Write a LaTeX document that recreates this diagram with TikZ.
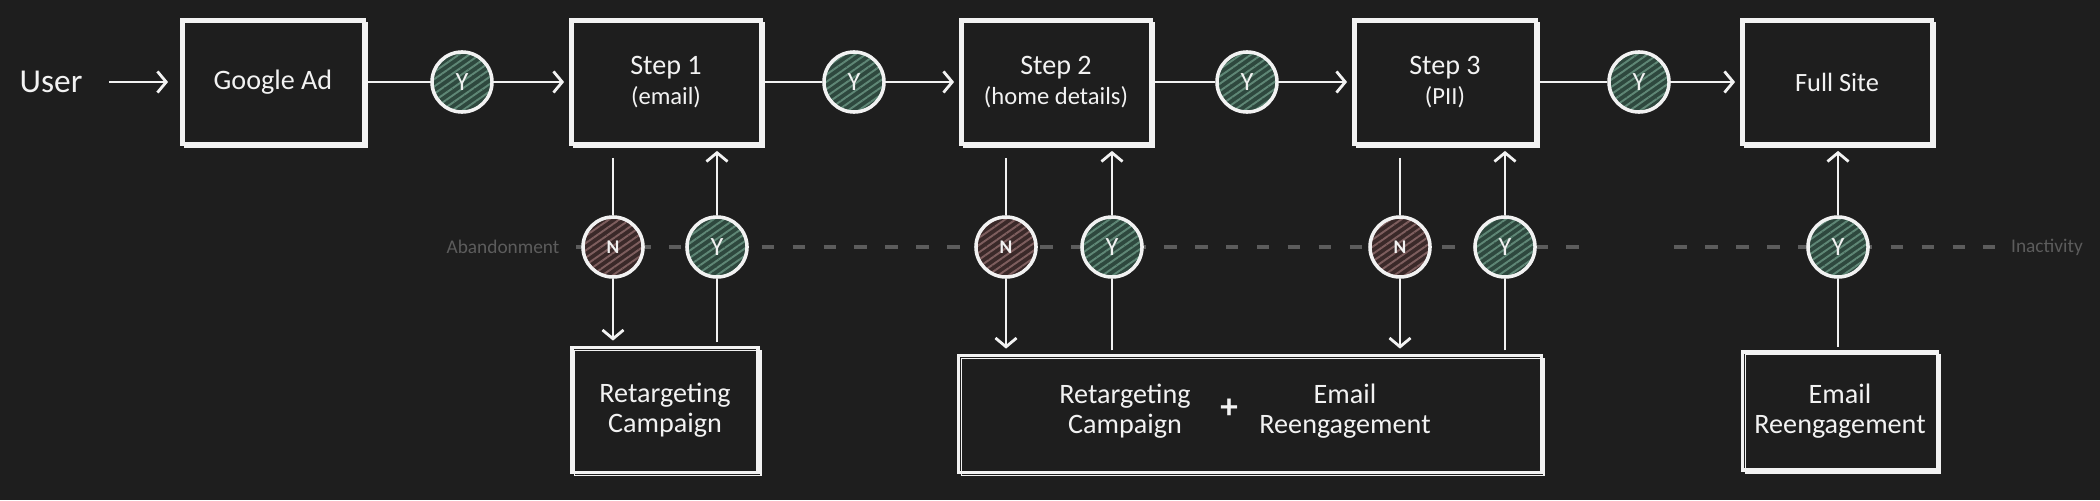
\documentclass[tikz,border=0pt]{standalone}
\usepackage{fontspec}
\setmainfont{Carlito}
\usetikzlibrary{arrows.meta,patterns.meta}

\definecolor{board}{HTML}{1E1E1E}
\definecolor{chalk}{HTML}{F2F2F2}
\definecolor{faint}{HTML}{5C5C5C}
\definecolor{yesfill}{HTML}{2E483E}
\definecolor{yesline}{HTML}{5F8776}
\definecolor{nofill}{HTML}{3A2929}
\definecolor{noline}{HTML}{7E5E5E}

\tikzset{
  chalktext/.style={text=chalk, font=\fontsize{8}{8.5}\selectfont, align=center},
  stage/.style={chalktext, draw=chalk, line width=0.9pt, minimum width=1.9cm, minimum height=1.24cm,
    postaction={draw=chalk, line width=0.4pt, transform canvas={shift={(0.8pt,-0.8pt)}}}},
  decision/.style={circle, draw=chalk, line width=1pt, minimum size=0.6cm, inner sep=0pt, text=chalk,
    pattern={Lines[angle=35,distance=1.7pt,line width=0.55pt]}},
  accept/.style={decision, font=\fontsize{7.5}{7.5}\selectfont, preaction={fill=yesfill}, pattern color=yesline},
  reject/.style={decision, font=\fontsize{5.5}{5.5}\selectfont\bfseries, preaction={fill=nofill}, pattern color=noline},
  note/.style={text=faint, inner sep=0pt, font=\fontsize{5.5}{5.5}\selectfont},
  link/.style={draw=chalk, line width=0.8pt},
  flow/.style={link, -{Straight Barb[length=2.5pt,width=6pt]}, shorten >=1.5pt},
  divider/.style={draw=faint, line width=1pt, dash pattern=on 3.6pt off 5.2pt}
}

\begin{document}
\begin{tikzpicture}[x=0.01cm, y=-0.01cm]
  \path[use as bounding box, fill=board] (0,0) rectangle (2100,500);
  \node[note] (abandon) at (503,247) {Abandonment};
  \node[note] (inactive) at (2047,247) {Inactivity};
  \draw[divider] ([xshift=4.5pt]abandon.east) -- (1591,247) (1674,247) -- ([xshift=-4.5pt]inactive.west);

  \node[chalktext, font=\fontsize{9.5}{9.5}\selectfont] (user) at (51,82) {User};
  \node[stage, minimum width=1.82cm] (ad) at (273,82) {Google Ad};
  \node[accept] (pass1) at (462,82) {Y};
  \node[stage] (step1) at (666,82) {Step 1\\{\fontsize{7}{7}\selectfont (email)}};
  \node[accept] (pass2) at (854,82) {Y};
  \node[stage] (step2) at (1056,82) {Step 2\\{\fontsize{7}{7}\selectfont (home details)}};
  \node[accept] (pass3) at (1247,82) {Y};
  \node[stage, minimum width=1.82cm] (step3) at (1445,82) {Step 3\\{\fontsize{7}{7}\selectfont (PII)}};
  \node[accept] (pass4) at (1639,82) {Y};
  \node[stage, font=\fontsize{7.5}{7.5}\selectfont] (site) at (1837,82) {Full Site};

  \node[reject] (drop1) at (613,247) {N};
  \node[accept] (back1) at (717,247) {Y};
  \node[reject] (drop2) at (1006,247) {N};
  \node[accept] (back2) at (1112,247) {Y};
  \node[reject] (drop3) at (1400,247) {N};
  \node[accept] (back3) at (1505,247) {Y};
  \node[accept] (back4) at (1838,247) {Y};

  \node[stage, minimum width=1.86cm, minimum height=1.25cm] (retarget) at (665,410) {Retargeting\\Campaign};
  \node[stage, minimum width=5.82cm, minimum height=1.17cm] (combo) at (1250,414) {};
  \node[chalktext] (combo-ad) at (1125,411) {Retargeting\\Campaign};
  \node[chalktext, font=\fontsize{10}{10}\selectfont\bfseries] (plus) at (1229,409) {+};
  \node[chalktext] (combo-mail) at (1345,411) {Email\\Reengagement};
  \node[stage, minimum width=1.85cm, minimum height=1.18cm] (reengage) at (1840,411) {Email\\Reengagement};

  \draw[flow, shorten <=4pt, shorten >=3.5pt] (user) -- (ad);
  \draw[link] (ad) -- (pass1);
  \draw[flow] (pass1) -- (step1);
  \draw[link] (step1) -- (pass2);
  \draw[flow] (pass2) -- (step2);
  \draw[link] (step2) -- (pass3);
  \draw[flow] (pass3) -- (step3);
  \draw[link] (step3) -- (pass4);
  \draw[flow] (pass4) -- (site);

  \draw[link, shorten <=3.5pt] (step1.south -| drop1) -- (drop1);
  \draw[flow] (drop1) -- (drop1 |- retarget.north);
  \draw[link, shorten <=1pt] (retarget.north -| back1) -- (back1);
  \draw[flow] (back1) -- (back1 |- step1.south);

  \draw[link, shorten <=3.5pt] (step2.south -| drop2) -- (drop2);
  \draw[flow] (drop2) -- (drop2 |- combo.north);
  \draw[link, shorten <=1pt] (combo.north -| back2) -- (back2);
  \draw[flow] (back2) -- (back2 |- step2.south);

  \draw[link, shorten <=3.5pt] (step3.south -| drop3) -- (drop3);
  \draw[flow] (drop3) -- (drop3 |- combo.north);
  \draw[link, shorten <=1pt] (combo.north -| back3) -- (back3);
  \draw[flow] (back3) -- (back3 |- step3.south);

  \draw[link, shorten <=1pt] (reengage.north -| back4) -- (back4);
  \draw[flow] (back4) -- (back4 |- site.south);
\end{tikzpicture}
\end{document}
